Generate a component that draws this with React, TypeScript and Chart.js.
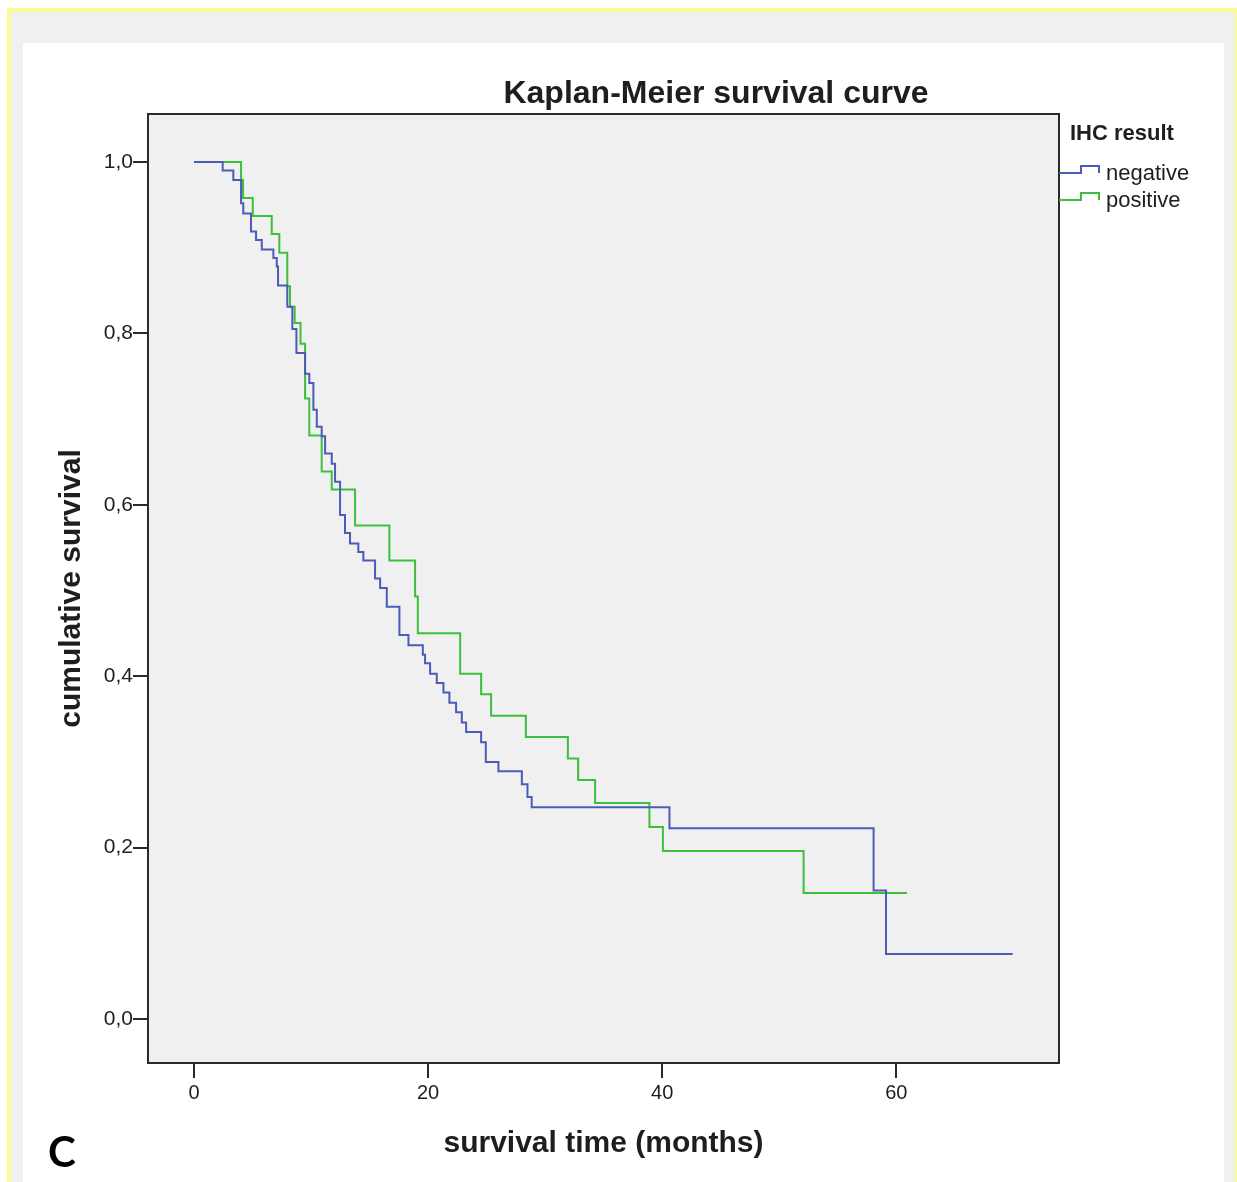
import { useEffect, useRef } from "react";
import { Chart, registerables } from "chart.js";

Chart.register(...registerables);

// Kaplan-Meier estimates: time (months) and cumulative survival after each event
const negativeTimes = [
  0, 2.45, 3.36, 4.02, 4.21, 4.87, 5.3, 5.79, 6.78, 7.07, 7.18, 7.97, 8.4, 8.75,
  9.49, 9.85, 10.2, 10.49, 10.91, 11.2, 11.77, 12.05, 12.48, 12.9, 13.33, 14.04,
  14.47, 15.47, 15.9, 16.47, 17.55, 18.32, 19.55, 19.74, 20.17, 20.74, 21.31,
  21.82, 22.39, 22.88, 23.25, 24.53, 24.93, 26.01, 28.01, 28.49, 28.85, 40.62,
  58.06, 59.12, 69.94,
];
const negativeSurvival = [
  1.0, 0.99, 0.979, 0.952, 0.94, 0.919, 0.909, 0.898, 0.888, 0.878, 0.856, 0.831,
  0.805, 0.777, 0.753, 0.742, 0.711, 0.691, 0.68, 0.66, 0.648, 0.627, 0.588,
  0.567, 0.555, 0.545, 0.535, 0.514, 0.503, 0.481, 0.448, 0.436, 0.425, 0.415,
  0.403, 0.392, 0.381, 0.369, 0.358, 0.346, 0.335, 0.323, 0.3, 0.289, 0.274,
  0.259, 0.247, 0.2225, 0.15, 0.0758, 0.0758,
];
const positiveTimes = [
  0, 4.02, 4.19, 5.02, 6.64, 7.29, 7.97, 8.2, 8.6, 9.1, 9.49, 9.85, 10.91, 11.77,
  13.76, 16.69, 18.89, 19.12, 22.74, 24.53, 25.38, 28.35, 31.94, 32.82, 34.27,
  38.91, 40.06, 52.08, 60.91,
];
const positiveSurvival = [
  1.0, 0.979, 0.958, 0.937, 0.916, 0.894, 0.855, 0.831, 0.812, 0.788, 0.724,
  0.681, 0.639, 0.618, 0.576, 0.535, 0.493, 0.45, 0.403, 0.379, 0.354, 0.329,
  0.304, 0.279, 0.252, 0.224, 0.196, 0.147, 0.147,
];

const seriesNames = ["negative", "positive"];
const seriesColors = ["#4a5cb8", "#3cbf3c"];
const xTickValues = [0, 20, 40, 60];
const yTickValues = [0, 0.2, 0.4, 0.6, 0.8, 1.0];
const chartTitle = "Kaplan-Meier survival curve";
const legendTitle = "IHC result";
const xAxisTitle = "survival time (months)";
const yAxisTitle = "cumulative survival";
const panelLabel = "C";

const FONT = "'Liberation Sans', Arial, sans-serif";
const TEXT = "#1e1e1e";

const toPoints = (times: number[], surv: number[]) =>
  times.map((t, i) => ({ x: t, y: surv[i] }));

// Plot background, frame, title and the step-line legend
const decorations = {
  id: "kmDecorations",
  beforeDatasetsDraw(chart: any) {
    const { ctx, chartArea: a } = chart;
    ctx.save();
    ctx.fillStyle = "#f0f0f0";
    ctx.fillRect(a.left, a.top, a.right - a.left, a.bottom - a.top);
    ctx.restore();
  },
  afterDatasetsDraw(chart: any) {
    const { ctx, chartArea: a } = chart;
    ctx.save();
    ctx.strokeStyle = "#2a2a2a";
    ctx.lineWidth = 2;
    ctx.strokeRect(a.left, a.top, a.right - a.left, a.bottom - a.top);

    ctx.fillStyle = TEXT;
    ctx.textAlign = "center";
    ctx.textBaseline = "middle";
    ctx.font = `bold 32px ${FONT}`;
    ctx.fillText(chartTitle, 693, 51);

    const lx = a.right;
    ctx.textAlign = "left";
    ctx.font = `bold 22px ${FONT}`;
    ctx.fillText(legendTitle, lx + 11, 91);

    ctx.font = `22px ${FONT}`;
    const rows = [130, 157];
    seriesNames.forEach((name, i) => {
      const y = rows[i];
      ctx.strokeStyle = seriesColors[i];
      ctx.lineWidth = 2;
      ctx.beginPath();
      ctx.moveTo(lx, y);
      ctx.lineTo(lx + 22, y);
      ctx.lineTo(lx + 22, y - 7);
      ctx.lineTo(lx + 40, y - 7);
      ctx.lineTo(lx + 40, y);
      ctx.stroke();
      ctx.fillStyle = TEXT;
      ctx.fillText(name, lx + 47, y + 1);
    });
    ctx.restore();
  },
};

export default function App() {
  const canvasRef = useRef<HTMLCanvasElement | null>(null);

  useEffect(() => {
    if (!canvasRef.current) return;
    const chart = new Chart(canvasRef.current, {
      type: "line",
      data: {
        datasets: [
          {
            label: seriesNames[0],
            data: toPoints(negativeTimes, negativeSurvival),
            borderColor: seriesColors[0],
            borderWidth: 2,
            stepped: "before",
            pointRadius: 0,
            fill: false,
          },
          {
            label: seriesNames[1],
            data: toPoints(positiveTimes, positiveSurvival),
            borderColor: seriesColors[1],
            borderWidth: 2,
            stepped: "before",
            pointRadius: 0,
            fill: false,
          },
        ],
      },
      options: {
        animation: false,
        responsive: false,
        events: [],
        layout: { padding: { top: 71, right: 165, bottom: 0, left: 0 } },
        plugins: {
          legend: { display: false },
          title: { display: false },
          tooltip: { enabled: false },
        },
        scales: {
          x: {
            type: "linear",
            min: -3.93,
            max: 73.9,
            afterBuildTicks: (s: any) => {
              s.ticks = xTickValues.map((v) => ({ value: v }));
            },
            afterFit: (s: any) => {
              s.height = 119;
            },
            ticks: {
              font: { size: 20, family: FONT },
              color: TEXT,
              padding: 3,
              maxRotation: 0,
              autoSkip: false,
            },
            grid: {
              drawOnChartArea: false,
              tickLength: 15,
              color: "#2a2a2a",
              lineWidth: 2,
            },
            border: { display: false },
            title: {
              display: true,
              text: xAxisTitle,
              color: TEXT,
              font: { size: 30, weight: "bold", family: FONT },
              padding: { top: 0, bottom: 20 },
            },
          },
          y: {
            type: "linear",
            min: -0.0513,
            max: 1.056,
            afterBuildTicks: (s: any) => {
              s.ticks = yTickValues.map((v) => ({ value: v }));
            },
            afterFit: (s: any) => {
              s.width = 125;
            },
            ticks: {
              font: { size: 21, family: FONT },
              color: TEXT,
              padding: 0,
              callback: (v: any) => Number(v).toFixed(1).replace(".", ","),
            },
            grid: {
              drawOnChartArea: false,
              tickLength: 15,
              color: "#2a2a2a",
              lineWidth: 2,
            },
            border: { display: false },
            title: {
              display: true,
              text: yAxisTitle,
              color: TEXT,
              font: { size: 30, weight: "bold", family: FONT },
              padding: { top: 31, bottom: 0 },
            },
          },
        },
      },
      plugins: [decorations],
    } as any);
    return () => chart.destroy();
  }, []);

  return (
    <div
      style={{
        position: "fixed",
        left: 7,
        top: 8,
        width: 1232,
        height: 1300,
        boxSizing: "border-box",
        border: "4px solid #fbfb94",
        background: "#f0f0f0",
      }}
    >
      <div
        style={{
          position: "absolute",
          left: 12,
          top: 31,
          width: 1201,
          height: 1300,
          background: "#ffffff",
        }}
      >
        <canvas
          ref={canvasRef}
          width={1201}
          height={1139}
          style={{ display: "block", width: 1201, height: 1139 }}
        />
        <div
          style={{
            position: "absolute",
            left: 25,
            top: 1087,
            fontFamily: "Lato, 'Open Sans', sans-serif",
            fontWeight: 700,
            fontSize: 42,
            lineHeight: 1,
            color: "#000",
          }}
        >
          {panelLabel}
        </div>
      </div>
    </div>
  );
}
